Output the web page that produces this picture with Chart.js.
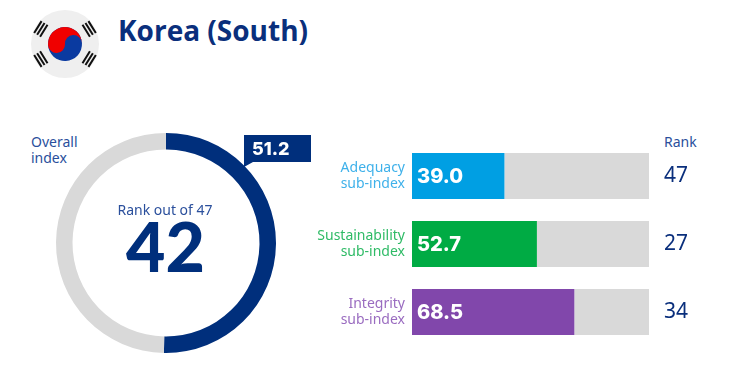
<!DOCTYPE html>
<html>
<head>
<meta charset="utf-8">
<script src="https://cdn.jsdelivr.net/npm/chart.js@4/dist/chart.umd.min.js"></script>
<style>
    html, body { margin: 0; padding: 0; background: #fff; }
    body { position: relative; width: 730px; height: 390px; overflow: hidden; font-family: "Noto Sans", sans-serif; color: #0a2f80; }
    canvas, svg, .txt { position: absolute; }
    .txt { white-space: nowrap; }
    #title { left: 118px; top: 11px; font: 700 28px/38px "Open Sans", sans-serif; color: #0a2f7c; }
    #overall { left: 31px; top: 134px; font-size: 14px; line-height: 16px; color: #2a4f9c; }
    #rankHead { left: 664px; top: 134px; font-size: 14px; line-height: 16px; color: #2a4f9c; }
    #rankOut { left: 65px; width: 200px; top: 201px; text-align: center; font-size: 14px; line-height: 18px; color: #2a4f9c; }
    #rankBig { left: 65.5px; width: 200px; top: 206px; text-align: center; font: 900 68px/80px Lato, sans-serif; color: #002f7c; }
    #callout { left: 244px; top: 135px; width: 67px; height: 32px; background: #002f7c; clip-path: polygon(0 0, 100% 0, 100% 27px, 9px 27px, 0 32px); }
    #calloutText { left: 252px; top: 135px; font: 800 18px/27px Inter, sans-serif; color: #fff; }
</style>
</head>
<body>
<svg style="left:31px;top:10px" width="68" height="68" viewBox="-34 -34 68 68">
    <circle r="34" fill="#efefef"/>
    <g transform="rotate(-3)">
        <circle r="17" fill="#0a3aa0"/>
        <path d="M-17 0A17 17 0 0 1 17 0A8.5 8.5 0 0 0 0 0A8.5 8.5 0 0 1 -17 0Z" fill="#f00000"/>
    </g>
    <g fill="none" stroke="#111" stroke-width="2">
        <g transform="rotate(-58)"><path d="M-7 -32H7M-7 -28.5H7M-7 -25H7"/></g>
        <g transform="rotate(58)"><path d="M-7 -32H7M-7 -28.5H7M-7 -25H7"/></g>
        <g transform="rotate(122)"><path d="M-7 -32H7M-7 -28.5H7M-7 -25H7"/></g>
        <g transform="rotate(-122)"><path d="M-7 -32H7M-7 -28.5H7M-7 -25H7"/></g>
    </g>
</svg>
<div class="txt" id="title">Korea (South)</div>
<div class="txt" id="overall">Overall<br>index</div>
<canvas id="overall-chart" width="230" height="230" style="left:51px;top:128px"></canvas>
<div class="txt" id="rankOut">Rank out of 47</div>
<div class="txt" id="rankBig"></div>
<div class="txt" id="callout"></div>
<div class="txt" id="calloutText"></div>
<div class="txt" id="rankHead">Rank</div>
<canvas id="sub-chart" width="400" height="204" style="left:310px;top:142px"></canvas>
<script>
const overallValue = 51.2;
// the ring in the picture stops just past half way, a bit short of its printed 51.2
const overallArc = 50.3;
const overallRank = 42;
const subLabels = [['Adequacy', 'sub-index'], ['Sustainability', 'sub-index'], ['Integrity', 'sub-index']];
const subValues = [39.0, 52.7, 68.5];
const subRanks = [47, 27, 34];
const barColors = ['#009fe3', '#00ab44', '#8147ab'];
const labelColors = ['#3fb1ea', '#2fbb66', '#9a6cc0'];
const indexMax = 100;
const restColor = '#d9d9d9';
const navy = '#002f7c';

document.getElementById('rankBig').textContent = overallRank;
document.getElementById('calloutText').textContent = overallValue.toFixed(1);

new Chart(document.getElementById('overall-chart'), {
    type: 'doughnut',
    data: {
        labels: ['Overall index', 'Rest'],
        datasets: [{
            data: [overallArc, indexMax - overallArc],
            backgroundColor: [navy, restColor],
            borderWidth: 0
        }]
    },
    options: {
        responsive: false,
        animation: false,
        radius: 110,
        cutout: '85%',
        plugins: { legend: { display: false }, tooltip: { enabled: false } }
    }
});

// value inside each bar and the rank column to the right of it
const barText = {
    id: 'barText',
    afterDatasetsDraw(chart) {
        const ctx = chart.ctx;
        const meta = chart.getDatasetMeta(0);
        ctx.save();
        ctx.textBaseline = 'middle';
        meta.data.forEach(function (bar, i) {
            ctx.textAlign = 'left';
            ctx.fillStyle = '#fff';
            ctx.font = '800 20px Inter, sans-serif';
            ctx.fillText(subValues[i].toFixed(1), chart.scales.x.left + 5, bar.y + 1);
            ctx.fillStyle = '#0a2f7c';
            ctx.font = '400 21px "Noto Sans", sans-serif';
            ctx.fillText(subRanks[i], chart.scales.x.right + 15, bar.y);
        });
        ctx.restore();
    }
};

new Chart(document.getElementById('sub-chart'), {
    type: 'bar',
    data: {
        labels: subLabels,
        datasets: [
            { data: subValues, backgroundColor: barColors, borderWidth: 0 },
            { data: subValues.map(v => indexMax - v), backgroundColor: restColor, borderWidth: 0 }
        ]
    },
    options: {
        indexAxis: 'y',
        responsive: false,
        animation: false,
        barPercentage: 0.68,
        categoryPercentage: 1,
        layout: { padding: { right: 61 } },
        scales: {
            x: { stacked: true, display: false, min: 0, max: indexMax },
            y: {
                stacked: true,
                afterFit: function (scale) {
                    scale.width = 102;
                    scale.paddingTop = 0;
                    scale.paddingBottom = 0;
                },
                border: { display: false },
                grid: { display: false },
                ticks: {
                    padding: -1,
                    autoSkip: false,
                    color: function (c) { return labelColors[c.index]; },
                    font: { family: '"Noto Sans", sans-serif', size: 14, lineHeight: 1.2 }
                }
            }
        },
        plugins: { legend: { display: false }, tooltip: { enabled: false } }
    },
    plugins: [barText]
});
</script>
</body>
</html>
